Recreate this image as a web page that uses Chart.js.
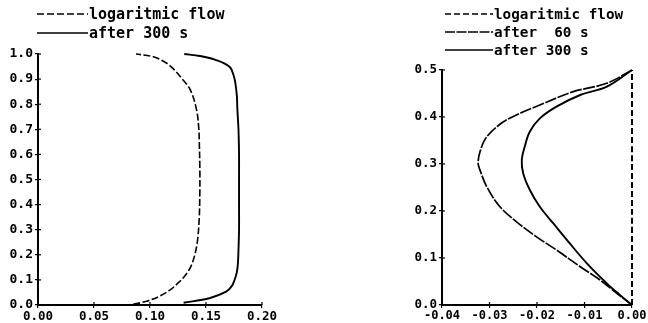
<!DOCTYPE html>
<html>
<head>
<meta charset="utf-8">
<script src="https://cdn.jsdelivr.net/npm/chart.js@4/dist/chart.umd.min.js"></script>
<style>
  html, body { margin: 0; padding: 0; background: #fff; }
  #wrap { position: relative; width: 648px; height: 323px; overflow: hidden; }
  canvas { position: absolute; top: 0; }
  #left { left: 0; }
  #right { left: 324px; }
</style>
</head>
<body>
<div id="wrap">
  <canvas id="left" width="324" height="323"></canvas>
  <canvas id="right" width="324" height="323"></canvas>
</div>
<script>
// ---------- Left panel data (x = value, y = height) ----------
const leftTicksX = [0.00, 0.05, 0.10, 0.15, 0.20];
const leftTicksY = [0.0, 0.1, 0.2, 0.3, 0.4, 0.5, 0.6, 0.7, 0.8, 0.9, 1.0];

const leftLogY = [0.003, 0.015, 0.036, 0.06, 0.083, 0.11, 0.149, 0.2, 0.26, 0.35, 0.45, 0.55, 0.65, 0.70, 0.777, 0.857, 0.91, 0.94, 0.963, 0.989, 1.0];
const leftLogX = [0.085, 0.097, 0.109, 0.118, 0.124, 0.130, 0.136, 0.140, 0.1425, 0.144, 0.1445, 0.1445, 0.144, 0.1436, 0.1416, 0.136, 0.127, 0.121, 0.115, 0.103, 0.0875];

const left300Y = [0.009, 0.027, 0.053, 0.075, 0.0996, 0.13, 0.166, 0.22, 0.3, 0.4, 0.5, 0.6, 0.7, 0.78, 0.83, 0.875, 0.9096, 0.949, 0.976, 0.992, 1.0];
const left300X = [0.130, 0.153, 0.168, 0.173, 0.1755, 0.1775, 0.1785, 0.179, 0.1795, 0.1795, 0.1795, 0.1795, 0.179, 0.178, 0.1776, 0.1765, 0.175, 0.171, 0.159, 0.1445, 0.1306];

// ---------- Right panel data ----------
const rightTicksX = [-0.04, -0.03, -0.02, -0.01, 0.00];
const rightTicksY = [0.0, 0.1, 0.2, 0.3, 0.4, 0.5];

const rightLogY = [0.0, 0.5];
const rightLogX = [0.0, 0.0];

const right60Y = [0, 0.025, 0.053, 0.0815, 0.117, 0.145, 0.177, 0.209, 0.252, 0.287, 0.3015, 0.326, 0.3547, 0.383, 0.4007, 0.4255, 0.4539, 0.4717, 0.5];
const right60X = [0, -0.0032, -0.0067, -0.0109, -0.0159, -0.0201, -0.0243, -0.0278, -0.0306, -0.032, -0.0324, -0.032, -0.0308, -0.028, -0.0251, -0.0194, -0.01236, -0.0053, 0];

const right300Y = [0, 0.021, 0.046, 0.0887, 0.131, 0.174, 0.209, 0.2447, 0.28, 0.3085, 0.34, 0.369, 0.397, 0.422, 0.4468, 0.4645, 0.5];
const right300X = [0, -0.0025, -0.0053, -0.0095, -0.0131, -0.0166, -0.0194, -0.0215, -0.0229, -0.0232, -0.0225, -0.0215, -0.0194, -0.0159, -0.0109, -0.0053, 0];

const labelsLeft = ['logaritmic flow', 'after 300 s'];
const labelsRight = ['logaritmic flow', 'after  60 s', 'after 300 s'];

// ---------- helpers ----------
const pts = (xs, ys) => xs.map((x, i) => ({ x: x, y: ys[i] }));

Chart.defaults.font.family = "'DejaVu Sans Mono', 'Liberation Mono', monospace";
Chart.defaults.font.weight = 'bold';
Chart.defaults.color = '#000';

const plotLegend = {
  id: 'plotLegend',
  afterDraw(chart, args, o) {
    const ctx = chart.ctx;
    ctx.save();
    ctx.font = o.font;
    ctx.fillStyle = '#000';
    ctx.strokeStyle = '#000';
    ctx.textBaseline = 'middle';
    ctx.textAlign = 'left';
    chart.data.datasets.forEach((ds, i) => {
      const y = o.y0 + i * o.dy;
      ctx.setLineDash(ds.legendDash || []);
      ctx.lineWidth = 1.5;
      ctx.beginPath();
      ctx.moveTo(o.x0, y);
      ctx.lineTo(o.x1, y);
      ctx.stroke();
      ctx.setLineDash([]);
      ctx.fillText(ds.label, o.x1 + 1, y + 1);
    });
    ctx.restore();
  }
};

const innerTicks = {
  id: 'innerTicks',
  afterDraw(chart) {
    const ctx = chart.ctx, a = chart.chartArea;
    const xs = chart.scales.x, ys = chart.scales.y;
    ctx.save();
    ctx.strokeStyle = '#000';
    ctx.lineWidth = 1.2;
    ys.ticks.forEach(t => {
      const p = ys.getPixelForValue(t.value);
      ctx.beginPath(); ctx.moveTo(a.left, p); ctx.lineTo(a.left + 3, p); ctx.stroke();
    });
    xs.ticks.forEach(t => {
      const p = xs.getPixelForValue(t.value);
      ctx.beginPath(); ctx.moveTo(p, a.bottom); ctx.lineTo(p, a.bottom - 3); ctx.stroke();
    });
    ctx.restore();
  }
};

function axis(min, max, ticksArr, digits, size, fitKey, fitVal, pad) {
  return {
    type: 'linear',
    min: min, max: max,
    afterBuildTicks: s => { s.ticks = ticksArr.map(v => ({ value: v })); },
    afterFit: s => { s[fitKey] = fitVal; },
    border: { display: true, color: '#000', width: 2 },
    grid: { display: true, drawOnChartArea: false, drawTicks: true, tickLength: 3, color: '#000', lineWidth: 1.2 },
    ticks: {
      padding: pad,
      font: { size: size, weight: 'bold' },
      color: '#000',
      maxRotation: 0,
      autoSkip: false,
      callback: v => Number(v).toFixed(digits)
    }
  };
}

function lineDs(label, data, dash, legendDash, width) {
  return {
    label: label,
    data: data,
    showLine: true,
    clip: false,
    borderColor: '#000',
    backgroundColor: '#000',
    borderWidth: width,
    borderDash: dash,
    legendDash: legendDash,
    pointRadius: 0,
    pointHoverRadius: 0,
    fill: false,
    tension: 0.35
  };
}

new Chart(document.getElementById('left'), {
  type: 'scatter',
  data: {
    datasets: [
      lineDs(labelsLeft[0], pts(leftLogX, leftLogY), [7, 2.5], [7, 3], 1.6),
      lineDs(labelsLeft[1], pts(left300X, left300Y), [], [], 1.9)
    ]
  },
  options: {
    responsive: false,
    animation: false,
    devicePixelRatio: 1,
    layout: { padding: { left: 0, right: 62, top: 54, bottom: 0 } },
    plugins: {
      legend: { display: false },
      tooltip: { enabled: false },
      plotLegend: { x0: 37, x1: 88, y0: 14, dy: 19, font: "bold 15px 'DejaVu Sans Mono'" }
    },
    scales: {
      x: axis(0, 0.2, leftTicksX, 2, 12.5, 'height', 18, 1),
      y: axis(0, 1.0, leftTicksY, 1, 13, 'width', 38, 2)
    }
  },
  plugins: [plotLegend, innerTicks]
});

new Chart(document.getElementById('right'), {
  type: 'scatter',
  data: {
    datasets: [
      lineDs(labelsRight[0], pts(rightLogX, rightLogY), [6, 3], [6, 3], 2),
      lineDs(labelsRight[1], pts(right60X, right60Y), [12, 1.5], [10, 1.5], 1.7),
      lineDs(labelsRight[2], pts(right300X, right300Y), [], [], 1.9)
    ]
  },
  options: {
    responsive: false,
    animation: false,
    devicePixelRatio: 1,
    layout: { padding: { left: 80, right: 16, top: 70, bottom: 0 } },
    plugins: {
      legend: { display: false },
      tooltip: { enabled: false },
      plotLegend: { x0: 121, x1: 169, y0: 14, dy: 18, font: "bold 14.3px 'DejaVu Sans Mono'" }
    },
    scales: {
      x: axis(-0.04, 0, rightTicksX, 2, 12, 'height', 18, 1),
      y: axis(0, 0.5, rightTicksY, 1, 12.5, 'width', 38, 2)
    }
  },
  plugins: [plotLegend, innerTicks]
});
</script>
</body>
</html>
